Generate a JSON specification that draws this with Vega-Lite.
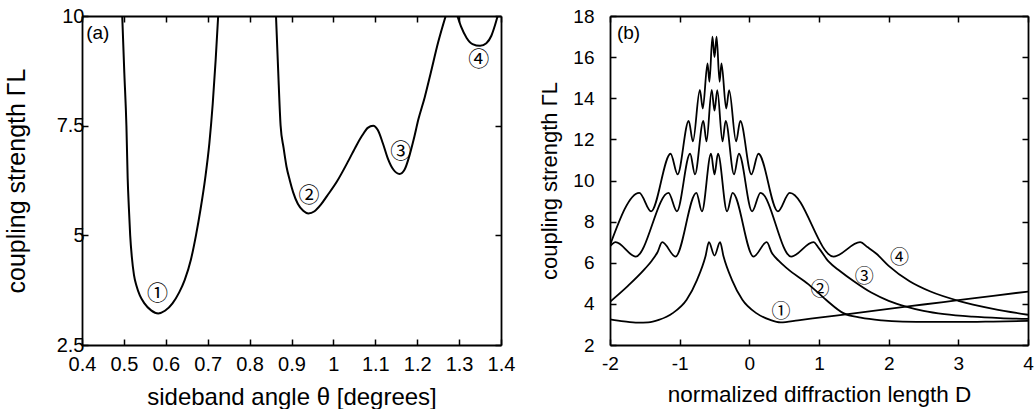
{
  "$schema": "https://vega.github.io/schema/vega-lite/v6.json",
  "background": "white",
  "padding": {"left": 4, "top": 6, "right": 2, "bottom": 0},
  "spacing": 23,
  "config": {
    "view": {"stroke": null},
    "font": "Liberation Sans",
    "axis": {
      "grid": false,
      "domainColor": "black",
      "domainWidth": 1.8,
      "tickColor": "black",
      "tickWidth": 1.5,
      "tickSize": -6,
      "labelFlush": false,
      "labelColor": "black",
      "titleColor": "black",
      "titleFontWeight": "normal",
      "labelFont": "Liberation Sans",
      "titleFont": "Liberation Sans"
    }
  },
  "datasets": {
    "a": [
      {"x": 0.496, "y": 10, "seg": 1}, {"x": 0.501, "y": 8.7, "seg": 1}, {"x": 0.506, "y": 7.5, "seg": 1},
      {"x": 0.509, "y": 6.3, "seg": 1}, {"x": 0.512, "y": 5.6, "seg": 1}, {"x": 0.515, "y": 5.0, "seg": 1},
      {"x": 0.519, "y": 4.5, "seg": 1}, {"x": 0.524, "y": 4.1, "seg": 1}, {"x": 0.530, "y": 3.85, "seg": 1},
      {"x": 0.538, "y": 3.63, "seg": 1}, {"x": 0.549, "y": 3.45, "seg": 1},
      {"x": 0.565, "y": 3.29, "seg": 1}, {"x": 0.582, "y": 3.22, "seg": 1}, {"x": 0.598, "y": 3.28, "seg": 1},
      {"x": 0.616, "y": 3.45, "seg": 1}, {"x": 0.632, "y": 3.7, "seg": 1}, {"x": 0.645, "y": 3.98, "seg": 1},
      {"x": 0.660, "y": 4.45, "seg": 1}, {"x": 0.672, "y": 5.0, "seg": 1}, {"x": 0.683, "y": 5.6, "seg": 1},
      {"x": 0.694, "y": 6.3, "seg": 1}, {"x": 0.704, "y": 7.1, "seg": 1}, {"x": 0.712, "y": 8.0, "seg": 1},
      {"x": 0.719, "y": 9.0, "seg": 1}, {"x": 0.725, "y": 10, "seg": 1},
      {"x": 0.863, "y": 10, "seg": 2}, {"x": 0.868, "y": 8.8, "seg": 2}, {"x": 0.874, "y": 7.5, "seg": 2},
      {"x": 0.881, "y": 7.0, "seg": 2}, {"x": 0.888, "y": 6.57, "seg": 2}, {"x": 0.896, "y": 6.25, "seg": 2},
      {"x": 0.904, "y": 5.98, "seg": 2}, {"x": 0.915, "y": 5.72, "seg": 2}, {"x": 0.928, "y": 5.56, "seg": 2},
      {"x": 0.940, "y": 5.50, "seg": 2}, {"x": 0.955, "y": 5.55, "seg": 2}, {"x": 0.970, "y": 5.7, "seg": 2},
      {"x": 0.985, "y": 5.9, "seg": 2}, {"x": 1.008, "y": 6.22, "seg": 2}, {"x": 1.037, "y": 6.72, "seg": 2},
      {"x": 1.055, "y": 7.05, "seg": 2}, {"x": 1.069, "y": 7.28, "seg": 2}, {"x": 1.082, "y": 7.45, "seg": 2},
      {"x": 1.095, "y": 7.50, "seg": 2}, {"x": 1.106, "y": 7.4, "seg": 2}, {"x": 1.118, "y": 7.1, "seg": 2},
      {"x": 1.130, "y": 6.75, "seg": 2}, {"x": 1.143, "y": 6.5, "seg": 2}, {"x": 1.158, "y": 6.40, "seg": 2},
      {"x": 1.170, "y": 6.5, "seg": 2}, {"x": 1.181, "y": 6.8, "seg": 2}, {"x": 1.192, "y": 7.2, "seg": 2},
      {"x": 1.203, "y": 7.65, "seg": 2}, {"x": 1.218, "y": 8.15, "seg": 2}, {"x": 1.232, "y": 8.69, "seg": 2},
      {"x": 1.250, "y": 9.4, "seg": 2}, {"x": 1.268, "y": 10, "seg": 2},
      {"x": 1.296, "y": 10, "seg": 3}, {"x": 1.305, "y": 9.75, "seg": 3}, {"x": 1.318, "y": 9.5, "seg": 3},
      {"x": 1.332, "y": 9.36, "seg": 3}, {"x": 1.350, "y": 9.32, "seg": 3}, {"x": 1.365, "y": 9.38, "seg": 3},
      {"x": 1.377, "y": 9.55, "seg": 3}, {"x": 1.386, "y": 9.8, "seg": 3}, {"x": 1.392, "y": 10, "seg": 3}
    ],
    "al": [
      {"x": 0.580, "y": 3.66, "t": "①"},
      {"x": 0.942, "y": 5.90, "t": "②"},
      {"x": 1.161, "y": 6.91, "t": "③"},
      {"x": 1.347, "y": 9.0, "t": "④"}
    ],
    "at": [{"x": 0.41, "y": 9.61, "t": "(a)"}],
    "b": [
      {"d": -2.0, "y": 3.25, "c": 1}, {"d": -1.8, "y": 3.15, "c": 1}, {"d": -1.6, "y": 3.09, "c": 1},
      {"d": -1.45, "y": 3.1, "c": 1}, {"d": -1.3, "y": 3.22, "c": 1}, {"d": -1.1, "y": 3.55, "c": 1},
      {"d": -0.9, "y": 4.2, "c": 1}, {"d": -0.75, "y": 5.17, "c": 1}, {"d": -0.63, "y": 6.3, "c": 1},
      {"d": -0.58, "y": 7.0, "c": 1}, {"d": -0.5, "y": 6.35, "c": 1}, {"d": -0.42, "y": 7.0, "c": 1},
      {"d": -0.37, "y": 6.3, "c": 1}, {"d": -0.25, "y": 5.17, "c": 1}, {"d": -0.1, "y": 4.2, "c": 1},
      {"d": 0.1, "y": 3.55, "c": 1}, {"d": 0.3, "y": 3.22, "c": 1}, {"d": 0.45, "y": 3.1, "c": 1},
      {"d": 0.7, "y": 3.2, "c": 1}, {"d": 1.0, "y": 3.33, "c": 1}, {"d": 1.5, "y": 3.54, "c": 1},
      {"d": 2.0, "y": 3.76, "c": 1}, {"d": 2.5, "y": 3.97, "c": 1}, {"d": 3.0, "y": 4.18, "c": 1},
      {"d": 3.5, "y": 4.39, "c": 1}, {"d": 4.0, "y": 4.6, "c": 1},
      {"d": -2.0, "y": 4.1, "c": 2}, {"d": -1.75, "y": 4.85, "c": 2}, {"d": -1.5, "y": 5.7, "c": 2},
      {"d": -1.4, "y": 6.1, "c": 2}, {"d": -1.32, "y": 6.5, "c": 2}, {"d": -1.25, "y": 7.0, "c": 2},
      {"d": -1.06, "y": 6.3, "c": 2}, {"d": -0.76, "y": 9.4, "c": 2}, {"d": -0.68, "y": 8.5, "c": 2},
      {"d": -0.55, "y": 11.3, "c": 2}, {"d": -0.5, "y": 10.3, "c": 2}, {"d": -0.45, "y": 11.3, "c": 2},
      {"d": -0.32, "y": 8.5, "c": 2}, {"d": -0.24, "y": 9.4, "c": 2}, {"d": 0.06, "y": 6.3, "c": 2},
      {"d": 0.25, "y": 7.0, "c": 2}, {"d": 0.32, "y": 6.5, "c": 2}, {"d": 0.42, "y": 6.1, "c": 2},
      {"d": 0.55, "y": 5.7, "c": 2}, {"d": 0.85, "y": 4.95, "c": 2}, {"d": 1.1, "y": 4.2, "c": 2},
      {"d": 1.35, "y": 3.55, "c": 2}, {"d": 1.6, "y": 3.33, "c": 2}, {"d": 1.9, "y": 3.2, "c": 2},
      {"d": 2.2, "y": 3.14, "c": 2}, {"d": 2.6, "y": 3.12, "c": 2}, {"d": 3.0, "y": 3.12, "c": 2},
      {"d": 3.5, "y": 3.14, "c": 2}, {"d": 4.0, "y": 3.17, "c": 2},
      {"d": -2.0, "y": 6.8, "c": 3}, {"d": -1.92, "y": 7.0, "c": 3}, {"d": -1.63, "y": 6.3, "c": 3},
      {"d": -1.16, "y": 9.4, "c": 3}, {"d": -1.04, "y": 8.5, "c": 3}, {"d": -0.85, "y": 11.3, "c": 3},
      {"d": -0.78, "y": 10.3, "c": 3}, {"d": -0.66, "y": 12.9, "c": 3}, {"d": -0.615, "y": 11.9, "c": 3},
      {"d": -0.54, "y": 14.4, "c": 3}, {"d": -0.5, "y": 13.4, "c": 3}, {"d": -0.46, "y": 14.4, "c": 3},
      {"d": -0.385, "y": 11.9, "c": 3}, {"d": -0.34, "y": 12.9, "c": 3}, {"d": -0.22, "y": 10.3, "c": 3},
      {"d": -0.15, "y": 11.3, "c": 3}, {"d": 0.04, "y": 8.5, "c": 3}, {"d": 0.16, "y": 9.4, "c": 3},
      {"d": 0.6, "y": 6.3, "c": 3}, {"d": 0.92, "y": 7.0, "c": 3}, {"d": 1.0, "y": 6.7, "c": 3},
      {"d": 1.14, "y": 6.05, "c": 3}, {"d": 1.3, "y": 5.6, "c": 3}, {"d": 1.5, "y": 5.1, "c": 3},
      {"d": 1.75, "y": 4.55, "c": 3}, {"d": 2.0, "y": 4.15, "c": 3}, {"d": 2.25, "y": 3.87, "c": 3},
      {"d": 2.5, "y": 3.66, "c": 3}, {"d": 2.8, "y": 3.5, "c": 3}, {"d": 3.2, "y": 3.38, "c": 3},
      {"d": 3.6, "y": 3.31, "c": 3}, {"d": 4.0, "y": 3.27, "c": 3},
      {"d": -2.0, "y": 6.85, "c": 4}, {"d": -1.58, "y": 9.4, "c": 4}, {"d": -1.41, "y": 8.5, "c": 4},
      {"d": -1.13, "y": 11.3, "c": 4}, {"d": -1.03, "y": 10.3, "c": 4}, {"d": -0.87, "y": 12.9, "c": 4},
      {"d": -0.81, "y": 11.9, "c": 4}, {"d": -0.71, "y": 14.4, "c": 4}, {"d": -0.668, "y": 13.5, "c": 4},
      {"d": -0.6, "y": 15.7, "c": 4}, {"d": -0.573, "y": 14.8, "c": 4}, {"d": -0.53, "y": 17.0, "c": 4},
      {"d": -0.5, "y": 16.0, "c": 4}, {"d": -0.47, "y": 17.0, "c": 4}, {"d": -0.427, "y": 14.8, "c": 4},
      {"d": -0.4, "y": 15.7, "c": 4}, {"d": -0.332, "y": 13.5, "c": 4}, {"d": -0.29, "y": 14.4, "c": 4},
      {"d": -0.19, "y": 11.9, "c": 4}, {"d": -0.13, "y": 12.9, "c": 4}, {"d": 0.03, "y": 10.3, "c": 4},
      {"d": 0.13, "y": 11.3, "c": 4}, {"d": 0.41, "y": 8.5, "c": 4}, {"d": 0.58, "y": 9.4, "c": 4},
      {"d": 1.21, "y": 6.3, "c": 4}, {"d": 1.59, "y": 7.0, "c": 4}, {"d": 1.7, "y": 6.75, "c": 4},
      {"d": 1.82, "y": 6.45, "c": 4}, {"d": 2.0, "y": 5.85, "c": 4}, {"d": 2.3, "y": 5.1, "c": 4},
      {"d": 2.6, "y": 4.6, "c": 4}, {"d": 3.0, "y": 4.15, "c": 4}, {"d": 3.5, "y": 3.76, "c": 4},
      {"d": 4.0, "y": 3.47, "c": 4}
    ],
    "bl": [
      {"d": 0.454, "y": 3.62, "t": "①"},
      {"d": 1.015, "y": 4.68, "t": "②"},
      {"d": 1.65, "y": 5.33, "t": "③"},
      {"d": 2.155, "y": 6.23, "t": "④"}
    ],
    "bt": [{"d": -1.9, "y": 17.17, "t": "(b)"}]
  },
  "hconcat": [
    {
      "width": 419,
      "height": 329,
      "layer": [
        {
          "data": {"name": "a"},
          "mark": {"type": "line", "interpolate": "monotone", "color": "black", "strokeWidth": 2, "clip": true},
          "encoding": {
            "x": {"field": "x", "type": "quantitative",
              "scale": {"domain": [0.4, 1.4], "nice": false, "zero": false},
              "axis": {"orient": "bottom", "values": [0.4, 0.5, 0.6, 0.7, 0.8, 0.9, 1, 1.1, 1.2, 1.3, 1.4], "labelExpr": "datum.value + ''",
                "labelFontSize": 20, "labelPadding": 15, "title": "sideband angle θ [degrees]", "titleFontSize": 24, "titlePadding": 11}},
            "y": {"field": "y", "type": "quantitative",
              "scale": {"domain": [2.5, 10], "nice": false, "zero": false},
              "axis": {"orient": "left", "values": [2.5, 5, 7.5, 10], "labelExpr": "datum.value + ''",
                "labelFontSize": 20, "labelPadding": 4, "title": "coupling strength ΓL", "titleFontSize": 25, "titlePadding": 27}},
            "detail": {"field": "seg"}
          }
        },
        {
          "data": {"name": "al"},
          "mark": {"type": "text", "font": "Noto Sans CJK JP", "fontSize": 21, "color": "black", "baseline": "middle", "align": "center"},
          "encoding": {
            "x": {"field": "x", "type": "quantitative",
              "axis": {"orient": "top", "values": [0.4, 0.5, 0.6, 0.7, 0.8, 0.9, 1, 1.1, 1.2, 1.3, 1.4], "labels": false, "title": null}},
            "y": {"field": "y", "type": "quantitative",
              "axis": {"orient": "right", "values": [2.5, 5, 7.5, 10], "labels": false, "title": null}},
            "text": {"field": "t"}
          }
        },
        {
          "data": {"name": "at"},
          "mark": {"type": "text", "fontSize": 19, "color": "black", "baseline": "middle", "align": "left"},
          "encoding": {
            "x": {"field": "x", "type": "quantitative", "axis": null},
            "y": {"field": "y", "type": "quantitative", "axis": null},
            "text": {"field": "t"}
          }
        }
      ],
      "resolve": {"axis": {"x": "independent", "y": "independent"}}
    },
    {
      "width": 418,
      "height": 329,
      "layer": [
        {
          "data": {"name": "b"},
          "mark": {"type": "line", "interpolate": "monotone", "color": "black", "strokeWidth": 1.8, "clip": true},
          "encoding": {
            "x": {"field": "d", "type": "quantitative",
              "scale": {"domain": [-2, 4], "nice": false, "zero": false},
              "axis": {"orient": "bottom", "values": [-2, -1, 0, 1, 2, 3, 4], "labelExpr": "datum.value + ''",
                "labelFontSize": 19, "labelPadding": 15, "title": "normalized diffraction length  D", "titleFontSize": 22.5, "titlePadding": 10}},
            "y": {"field": "y", "type": "quantitative",
              "scale": {"domain": [2, 18], "nice": false, "zero": false},
              "axis": {"orient": "left", "values": [2, 4, 6, 8, 10, 12, 14, 16, 18],
                "labelFontSize": 19, "labelPadding": 22, "title": "coupling strength ΓL", "titleFontSize": 22, "titlePadding": 11}},
            "detail": {"field": "c"}
          }
        },
        {
          "data": {"name": "bl"},
          "mark": {"type": "text", "font": "Noto Sans CJK JP", "fontSize": 19, "color": "black", "baseline": "middle", "align": "center"},
          "encoding": {
            "x": {"field": "d", "type": "quantitative",
              "axis": {"orient": "top", "values": [-2, -1, 0, 1, 2, 3, 4], "labels": false, "title": null}},
            "y": {"field": "y", "type": "quantitative",
              "axis": {"orient": "right", "values": [2, 4, 6, 8, 10, 12, 14, 16, 18], "labels": false, "title": null}},
            "text": {"field": "t"}
          }
        },
        {
          "data": {"name": "bt"},
          "mark": {"type": "text", "fontSize": 19, "color": "black", "baseline": "middle", "align": "left"},
          "encoding": {
            "x": {"field": "d", "type": "quantitative", "axis": null},
            "y": {"field": "y", "type": "quantitative", "axis": null},
            "text": {"field": "t"}
          }
        }
      ],
      "resolve": {"axis": {"x": "independent", "y": "independent"}}
    }
  ]
}
